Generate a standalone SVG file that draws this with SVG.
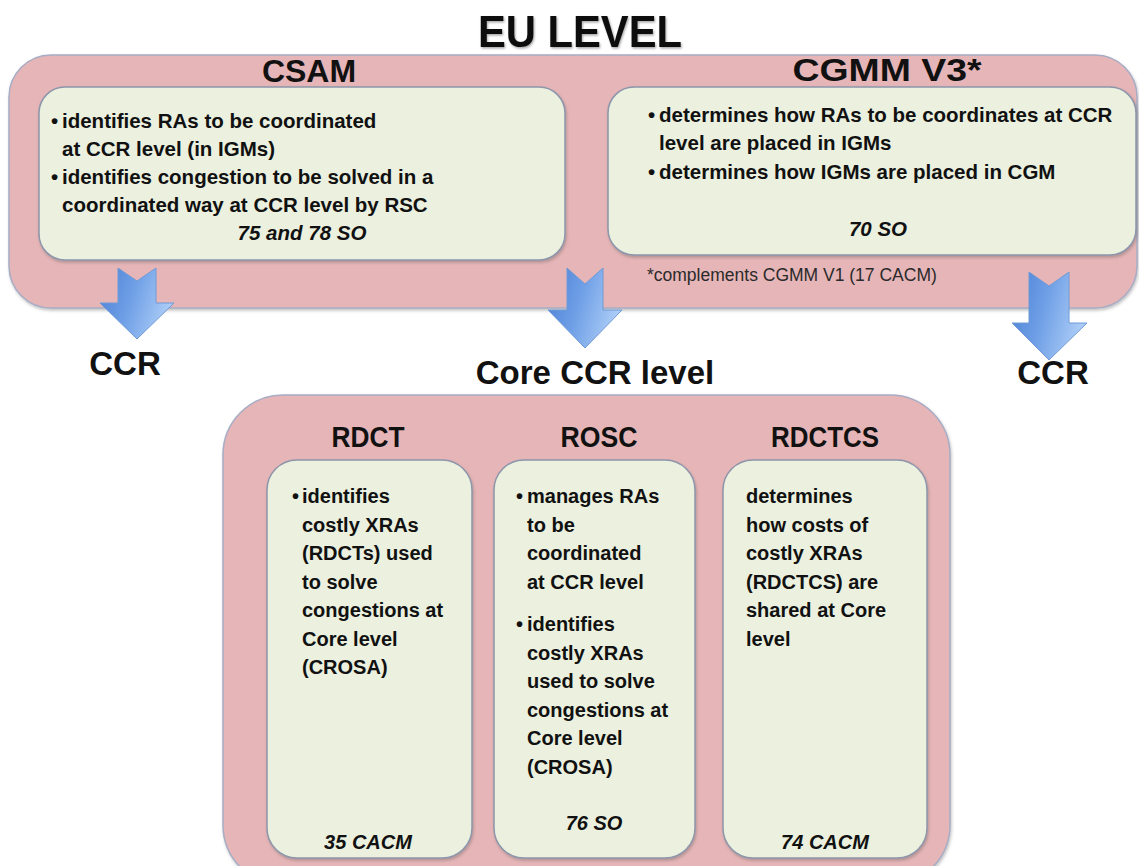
<svg xmlns="http://www.w3.org/2000/svg" width="1139" height="866" viewBox="0 0 1139 866">
<defs>
<style>
.outer{fill:#e6b5b7;stroke:#a7adc4;stroke-width:1.5}
.inner{fill:#ebf0df;stroke:#8d96aa;stroke-width:1.5}
.t{font-family:"Liberation Sans",Arial,sans-serif;font-weight:bold;fill:#111}
.title{font-size:44px}
.head{font-size:32px}
.h2{font-size:29px}
.lbl{font-size:33px}
.b{font-size:20.5px}
.bs{font-size:20px}
.it{font-style:italic}
.note{font-family:"Liberation Sans",Arial,sans-serif;font-size:17.5px;fill:#2a2a2a}
.arrow{fill:url(#ag);stroke:#6f9ad6;stroke-width:1}
</style>
<linearGradient id="ag" x1="0" y1="0" x2="1" y2="0.3">
<stop offset="0" stop-color="#4a7fd4"/>
<stop offset="0.5" stop-color="#6f9fe6"/>
<stop offset="1" stop-color="#a9cbf6"/>
</linearGradient>
<filter id="sh" x="-5%" y="-5%" width="110%" height="115%">
<feDropShadow dx="1" dy="2" stdDeviation="1.5" flood-color="#555" flood-opacity="0.35"/>
</filter>
<filter id="tsh" x="-5%" y="-10%" width="110%" height="130%">
<feDropShadow dx="1" dy="1.5" stdDeviation="1.2" flood-color="#000" flood-opacity="0.35"/>
</filter>
</defs>
<rect width="1139" height="866" fill="#ffffff"/>

<text class="t title" x="580" y="47" text-anchor="middle" textLength="204" lengthAdjust="spacingAndGlyphs" filter="url(#tsh)">EU LEVEL</text>

<g id="eu-level">
<rect class="outer" x="9" y="55" width="1128" height="253" rx="42" filter="url(#sh)"/>
</g>

<g id="core-ccr">
<rect class="outer" x="223" y="395" width="727" height="490" rx="60" filter="url(#sh)"/>
</g>

<g id="csam">
<text class="t head" x="309" y="82" text-anchor="middle">CSAM</text>
<rect class="inner" x="39" y="87" width="526" height="173" rx="26" filter="url(#sh)"/>
<text class="t b" x="51" y="128">•</text>
<text class="t b" x="62" y="128">identifies RAs to be coordinated</text>
<text class="t b" x="62" y="156">at CCR level (in IGMs)</text>
<text class="t b" x="51" y="184">•</text>
<text class="t b" x="62" y="184">identifies congestion to be solved in a</text>
<text class="t b" x="62" y="212">coordinated way at CCR level by RSC</text>
<text class="t b it" x="302" y="240" text-anchor="middle">75 and 78 SO</text>
</g>

<g id="cgmm">
<text class="t head" x="887" y="81" text-anchor="middle" textLength="189" lengthAdjust="spacingAndGlyphs">CGMM V3*</text>
<rect class="inner" x="608" y="87" width="528" height="168" rx="26" filter="url(#sh)"/>
<text class="t b" x="648" y="122">•</text>
<text class="t b" x="659" y="122">determines how RAs to be coordinates at CCR</text>
<text class="t b" x="659" y="150">level are placed in IGMs</text>
<text class="t b" x="648" y="179">•</text>
<text class="t b" x="659" y="179">determines how IGMs are placed in CGM</text>
<text class="t b it" x="878" y="236" text-anchor="middle">70 SO</text>
<text class="note" x="647" y="281">*complements CGMM V1 (17 CACM)</text>
</g>

<g id="connectors">
<path class="arrow" d="M118,268 L137,281 L156,268 L156,303 L174,303 L137,339 L100,303 L118,303 Z"/>
<path class="arrow" d="M567,268 L585,284 L603,268 L603,310 L622,310 L585,348 L548,310 L567,310 Z"/>
<path class="arrow" d="M1029,272 L1049,286 L1069,272 L1069,323 L1087,323 L1049,360 L1012,323 L1029,323 Z"/>
</g>

<g id="ccr-left">
<text class="t lbl" x="125" y="375" text-anchor="middle">CCR</text>
</g>
<g id="core-ccr-level">
<text class="t lbl" x="595" y="384" text-anchor="middle">Core CCR level</text>
</g>
<g id="ccr-right">
<text class="t lbl" x="1053" y="384" text-anchor="middle">CCR</text>
</g>

<g id="rdct">
<text class="t h2" x="368" y="447" text-anchor="middle" textLength="73" lengthAdjust="spacingAndGlyphs">RDCT</text>
<rect class="inner" x="267" y="460" width="205" height="398" rx="30" filter="url(#sh)"/>
<text class="t bs" x="292" y="503">•</text>
<text class="t bs" x="302" y="503">identifies</text>
<text class="t bs" x="302" y="531.5">costly XRAs</text>
<text class="t bs" x="302" y="560">(RDCTs) used</text>
<text class="t bs" x="302" y="588.5">to solve</text>
<text class="t bs" x="302" y="617">congestions at</text>
<text class="t bs" x="302" y="645.5">Core level</text>
<text class="t bs" x="302" y="674">(CROSA)</text>
<text class="t bs it" x="368" y="849" text-anchor="middle">35 CACM</text>
</g>

<g id="rosc">
<text class="t h2" x="599" y="447" text-anchor="middle" textLength="77" lengthAdjust="spacingAndGlyphs">ROSC</text>
<rect class="inner" x="494" y="460" width="201" height="398" rx="30" filter="url(#sh)"/>
<text class="t bs" x="516" y="503">•</text>
<text class="t bs" x="527" y="503">manages RAs</text>
<text class="t bs" x="527" y="531.5">to be</text>
<text class="t bs" x="527" y="560">coordinated</text>
<text class="t bs" x="527" y="588.5">at CCR level</text>
<text class="t bs" x="516" y="631">•</text>
<text class="t bs" x="527" y="631">identifies</text>
<text class="t bs" x="527" y="659.5">costly XRAs</text>
<text class="t bs" x="527" y="688">used to solve</text>
<text class="t bs" x="527" y="716.5">congestions at</text>
<text class="t bs" x="527" y="745">Core level</text>
<text class="t bs" x="527" y="773.5">(CROSA)</text>
<text class="t bs it" x="594" y="830" text-anchor="middle">76 SO</text>
</g>

<g id="rdctcs">
<text class="t h2" x="825" y="447" text-anchor="middle" textLength="108" lengthAdjust="spacingAndGlyphs">RDCTCS</text>
<rect class="inner" x="723" y="460" width="204" height="398" rx="30" filter="url(#sh)"/>
<text class="t bs" x="746" y="503">determines</text>
<text class="t bs" x="746" y="531.5">how costs of</text>
<text class="t bs" x="746" y="560">costly XRAs</text>
<text class="t bs" x="746" y="588.5">(RDCTCS) are</text>
<text class="t bs" x="746" y="617">shared at Core</text>
<text class="t bs" x="746" y="645.5">level</text>
<text class="t bs it" x="825" y="849" text-anchor="middle">74 CACM</text>
</g>
</svg>
